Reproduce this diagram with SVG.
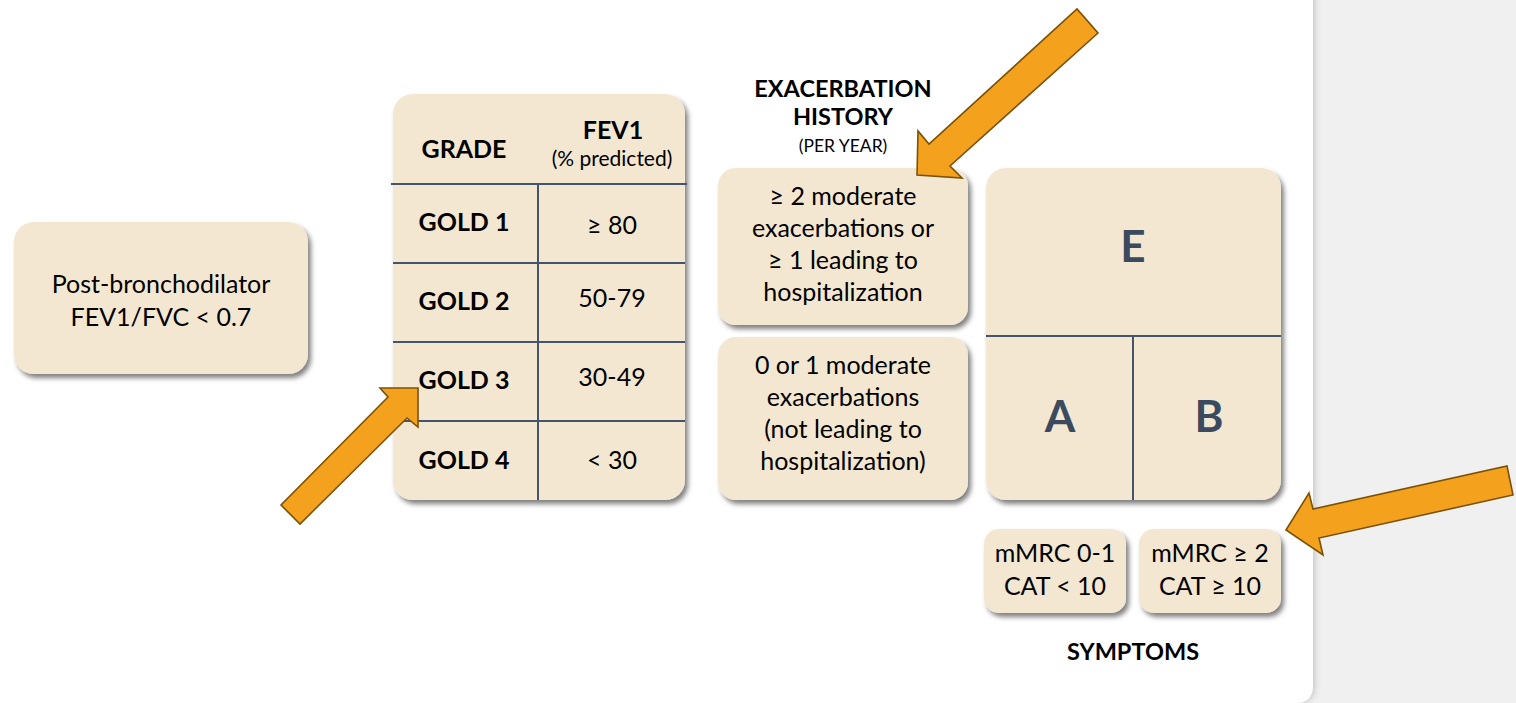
<svg xmlns="http://www.w3.org/2000/svg" width="1516" height="703" viewBox="0 0 1516 703">
  <defs>
    <filter id="shadow" x="-10%" y="-10%" width="125%" height="125%">
      <feDropShadow dx="3" dy="4" stdDeviation="2.5" flood-color="#000" flood-opacity="0.5"/>
    </filter>
    <filter id="panelShadow" x="-5%" y="-5%" width="110%" height="110%">
      <feDropShadow dx="2" dy="0" stdDeviation="3" flood-color="#000" flood-opacity="0.18"/>
    </filter>
    <style>
      .box { fill: #f4e7d2; filter: url(#shadow); }
      .grid { stroke: #44546a; stroke-width: 2; fill: none; }
      .txt { font-family: Lato, "Liberation Sans", sans-serif; font-size: 25px; fill: #000; text-anchor: middle; }
      .small { font-size: 21px; }
      .tiny { font-size: 17.5px; }
      .bold { font-family: Lato, "Liberation Sans", sans-serif; font-weight: bold; fill: #000; text-anchor: middle; }
      .big { font-family: Lato, "Liberation Sans", sans-serif; font-weight: bold; font-size: 44px; fill: #3b4a5e; text-anchor: middle; }
      .arrow { fill: #f4a11e; stroke: #7a5206; stroke-width: 1.6; stroke-linejoin: miter; }
    </style>
  </defs>

  <!-- background -->
  <rect x="0" y="0" width="1516" height="703" fill="#f0f0f0"/>
  <path d="M0,-20 H1313 V685 Q1313,703 1295,703 H0 Z" fill="#ffffff" filter="url(#panelShadow)"/>

  <g id="node-spirometry">
    <rect class="box" x="14" y="222" width="294" height="152" rx="20"/>
    <text class="txt" x="161" y="293">Post-bronchodilator</text>
    <text class="txt" x="161" y="326">FEV1/FVC &lt; 0.7</text>
  </g>

  <g id="node-grade-table">
    <rect class="box" x="393" y="94" width="292" height="406" rx="20"/>
    <line class="grid" x1="391" y1="184" x2="687" y2="184"/>
    <line class="grid" x1="393" y1="263" x2="685" y2="263"/>
    <line class="grid" x1="393" y1="342" x2="685" y2="342"/>
    <line class="grid" x1="393" y1="421" x2="685" y2="421"/>
    <line class="grid" x1="538" y1="184" x2="538" y2="500"/>
    <text class="bold" x="464" y="158" font-size="25">GRADE</text>
    <text class="bold" x="613" y="139" font-size="25">FEV1</text>
    <text class="txt small" x="612" y="166">(% predicted)</text>
    <text class="bold" x="464" y="231" font-size="25">GOLD 1</text>
    <text class="txt" x="612" y="234">≥ 80</text>
    <text class="bold" x="464" y="310" font-size="25">GOLD 2</text>
    <text class="txt" x="612" y="307">50-79</text>
    <text class="bold" x="464" y="389" font-size="25">GOLD 3</text>
    <text class="txt" x="612" y="386">30-49</text>
    <text class="bold" x="464" y="469" font-size="25">GOLD 4</text>
    <text class="txt" x="612" y="469">&lt; 30</text>
  </g>

  <g id="node-exacerbation-header">
    <text class="bold" x="843" y="97" font-size="23.5">EXACERBATION</text>
    <text class="bold" x="843" y="125" font-size="23.5">HISTORY</text>
    <text class="txt tiny" x="843" y="152">(PER YEAR)</text>
  </g>

  <g id="node-exacerbation-high">
    <rect class="box" x="718" y="168" width="250" height="157" rx="18"/>
    <text class="txt" x="843" y="205">≥ 2 moderate</text>
    <text class="txt" x="843" y="237">exacerbations or</text>
    <text class="txt" x="843" y="269">≥ 1 leading to</text>
    <text class="txt" x="843" y="301">hospitalization</text>
  </g>

  <g id="node-exacerbation-low">
    <rect class="box" x="718" y="337" width="250" height="163" rx="18"/>
    <text class="txt" x="843" y="374">0 or 1 moderate</text>
    <text class="txt" x="843" y="406">exacerbations</text>
    <text class="txt" x="843" y="438">(not leading to</text>
    <text class="txt" x="843" y="470">hospitalization)</text>
  </g>

  <g id="node-abe-grid">
    <rect class="box" x="986" y="168" width="295" height="332" rx="20"/>
    <line class="grid" x1="986" y1="336" x2="1281" y2="336"/>
    <line class="grid" x1="1133" y1="336" x2="1133" y2="500"/>
    <text class="big" x="1133" y="262">E</text>
    <text class="big" x="1060" y="432">A</text>
    <text class="big" x="1209" y="432">B</text>
  </g>

  <g id="node-symptoms-low">
    <rect class="box" x="984" y="529" width="142" height="84" rx="15"/>
    <text class="txt" x="1055" y="562">mMRC 0-1</text>
    <text class="txt" x="1055" y="595">CAT &lt; 10</text>
  </g>

  <g id="node-symptoms-high">
    <rect class="box" x="1139" y="529" width="142" height="84" rx="15"/>
    <text class="txt" x="1210" y="562">mMRC ≥ 2</text>
    <text class="txt" x="1210" y="595">CAT ≥ 10</text>
  </g>

  <g id="node-symptoms-label">
    <text class="bold" x="1133" y="660" font-size="23.5">SYMPTOMS</text>
  </g>

  <g id="connectors">
    <polygon class="arrow" points="917,175 918,131 929,144 1077,9 1098,33 950,166 962,178"/>
    <polygon class="arrow" points="418,388 380,388 388,397 281,505 300,524 407,418 418,427"/>
    <polygon class="arrow" points="1286,530 1309,493 1313,509 1507,466 1513,495 1319,538 1323,555"/>
  </g>
</svg>
